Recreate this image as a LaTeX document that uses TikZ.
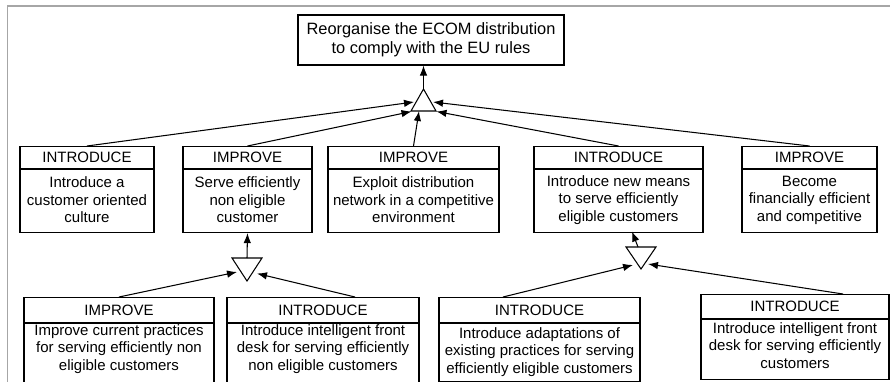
\documentclass[tikz,border=0pt]{standalone}
\usepackage{fontspec}
\setmainfont{Liberation Sans}
\usetikzlibrary{arrows.meta}
\tikzset{
  ln/.style={line width=1.05pt},
  boxpart/.style={draw, ln, inner sep=0pt, anchor=north},
  hdr/.style={boxpart, font=\fontsize{15}{17.5}\selectfont},
  txt/.style={align=center, inner sep=0pt, font=\fontsize{15}{17.5}\selectfont},
  arr/.style={ln, -{Latex[length=10pt,width=7.5pt]}},
  gate/.style={draw, ln, line join=miter},
  frame/.style={draw=black!35, line width=1.6pt}
}
\begin{document}
\begin{tikzpicture}[x=1pt,y=-1pt]
\useasboundingbox (0,0) rectangle (890,381);
\clip (0,0) rectangle (890,381);
\draw[frame] (891,6) -- (7.5,6) -- (7.5,382);
% top goal
\node[draw, ln, minimum width=266pt, minimum height=50pt, inner sep=0pt, align=center,
  font=\fontsize{16.4}{19}\selectfont] (top) at (431,40) {Reorganise the ECOM distribution\\to comply with the EU rules};
% row 1 boxes
\node[hdr, minimum width=134pt, minimum height=22pt] (b1h) at (87,146) {INTRODUCE};
\node[boxpart, minimum width=134pt, minimum height=63pt] (b1b) at (b1h.south) {};
\node[txt] (b1t) at (87,200) {Introduce a\\customer oriented\\culture};
\node[hdr, minimum width=129pt, minimum height=22pt] (b2h) at (247.5,146) {IMPROVE};
\node[boxpart, minimum width=129pt, minimum height=63pt] (b2b) at (b2h.south) {};
\node[txt] (b2t) at (247.5,200) {Serve efficiently\\non eligible\\customer};
\node[hdr, minimum width=171pt, minimum height=22pt] (b3h) at (413.5,146) {IMPROVE};
\node[boxpart, minimum width=171pt, minimum height=63pt] (b3b) at (b3h.south) {};
\node[txt] (b3t) at (413.5,200) {Exploit distribution\\network in a competitive\\environment};
\node[hdr, minimum width=169pt, minimum height=22pt] (b4h) at (618.5,146) {INTRODUCE};
\node[boxpart, minimum width=169pt, minimum height=63pt] (b4b) at (b4h.south) {};
\node[txt] (b4t) at (618.5,200) {Introduce new means\\to serve efficiently\\eligible customers};
\node[hdr, minimum width=135pt, minimum height=22pt] (b5h) at (809.5,146) {IMPROVE};
\node[boxpart, minimum width=135pt, minimum height=63pt] (b5b) at (b5h.south) {};
\node[txt] (b5t) at (809.5,200) {Become\\financially efficient\\and competitive};
% row 2 boxes
\node[hdr, minimum width=190pt, minimum height=25pt] (b6h) at (119,297) {IMPROVE};
\node[boxpart, minimum width=190pt, minimum height=70pt] (b6b) at (b6h.south) {};
\node[txt] (b6t) at (119,349) {Improve current practices\\for serving efficiently non\\eligible customers};
\node[hdr, minimum width=192pt, minimum height=25pt] (b7h) at (323,297) {INTRODUCE};
\node[boxpart, minimum width=192pt, minimum height=70pt] (b7b) at (b7h.south) {};
\node[txt] (b7t) at (323,349) {Introduce intelligent front\\desk for serving efficiently\\non eligible customers};
\node[hdr, minimum width=201pt, minimum height=25pt] (b8h) at (539.5,297) {INTRODUCE};
\node[boxpart, minimum width=201pt, minimum height=58pt] (b8b) at (b8h.south) {};
\node[txt] (b8t) at (539.5,352) {Introduce adaptations of\\existing practices for serving\\efficiently eligible customers};
\node[hdr, minimum width=188pt, minimum height=24pt] (b9h) at (795,294) {INTRODUCE};
\node[boxpart, minimum width=188pt, minimum height=60pt] (b9b) at (b9h.south) {};
\node[txt] (b9t) at (795,345.5) {Introduce intelligent front\\desk for serving efficiently\\customers};
% AND gates
\draw[gate] (411,111) -- (423.5,89) -- (436,111) -- cycle;
\draw[gate] (232,258) -- (262,258) -- (247,281) -- cycle;
\draw[gate] (626,247) -- (656,247) -- (641,269) -- cycle;
\coordinate (g1apex) at (423.5,89);
\coordinate (g1l1) at (414,102);
\coordinate (g1l2) at (411.5,111.5);
\coordinate (g1b) at (419,111);
\coordinate (g1r1) at (433,102);
\coordinate (g1r2) at (436.5,111.5);
\coordinate (g2top) at (247,258);
\coordinate (g2l) at (237,272);
\coordinate (g2r) at (257,273.5);
\coordinate (g3top) at (638,247);
\coordinate (g3l) at (633,265);
\coordinate (g3r) at (648,264);
\coordinate (b4tip) at (632,231.5);
\coordinate (s7) at (355,297);
\coordinate (s8) at (503,297);
\coordinate (s9) at (843,294);
% connectors
\draw[arr] (g1apex) -- (g1apex |- top.south);
\draw[arr] (b1h.north) -- (g1l1);
\draw[arr] (b2h.north) -- (g1l2);
\draw[arr] (b3h.north) -- (g1b);
\draw[arr] (b4h.north) -- (g1r2);
\draw[arr] (b5h.north) -- (g1r1);
\draw[arr] (g2top) -- (b2b.south);
\draw[arr] (b6h.north) -- (g2l);
\draw[arr] (s7) -- (g2r);
\draw[arr] (g3top) -- (b4tip);
\draw[arr] (s8) -- (g3l);
\draw[arr] (s9) -- (g3r);
\end{tikzpicture}
\end{document}
